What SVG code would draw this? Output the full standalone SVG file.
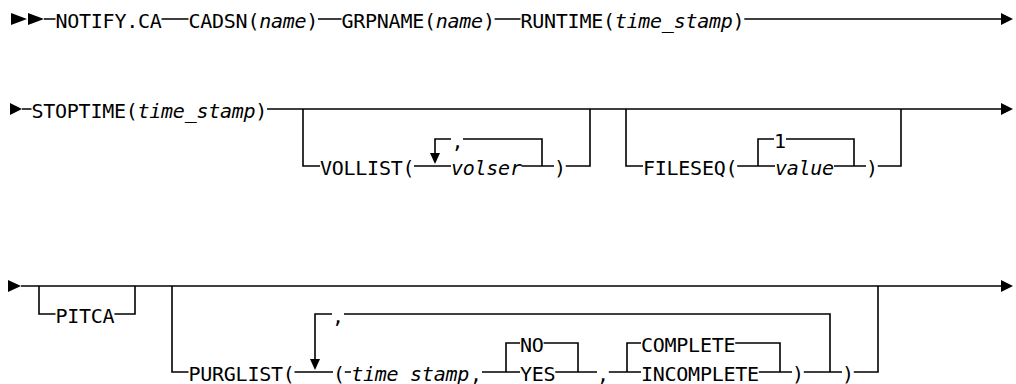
<svg xmlns="http://www.w3.org/2000/svg" width="1016" height="384" viewBox="0 0 1016 384">
<style>
.t{font-family:"DejaVu Sans Mono","Liberation Mono",monospace;font-size:20px;letter-spacing:-0.26px;fill:#000}
.i{font-style:italic}
.ln{fill:none;stroke:#000;stroke-width:1.6}
.ah{fill:#000}
</style>
<rect width="1016" height="384" fill="#fff"/>
<g id="connectors">
<path class="ln" d="M44 19H55.5M161.5 19H188.5M318 19H341.5M494.6 19H520.5M744.3 19H1002"/>
<path class="ln" d="M22 109H31.5M267 109H1002"/>
<path class="ln" d="M303 109V166H320M414 166H451M521.7 166H554M565.8 166H590V109"/>
<path class="ln" d="M435 153V139H451M463 139H542V166"/>
<path class="ln" d="M626 109V166H643M737.2 166H775M834 166H866M877.8 166H901V109"/>
<path class="ln" d="M758 166V139H774M786 139H854V166"/>
<path class="ln" d="M21 286H1002"/>
<path class="ln" d="M39 286V314H55.5M114.4 314H135V286"/>
<path class="ln" d="M172 286V372H188.5M294.5 372H333M344.8 372H351M482 372H520M543.6 343H578V372M555.3 372H597M608.8 372H641M735.2 343H780V372M758.8 372H792M803.8 372H842M853.8 372H878V286"/>
<path class="ln" d="M506 372V343H520M627 372V343H641"/>
<path class="ln" d="M315 359V314H332M344 314H830V372"/>
<polygon class="ah" points="11,13 11,25 27,19"/>
<polygon class="ah" points="28,13 28,25 44,19"/>
<polygon class="ah" points="1001,13 1001,25 1013,19"/>
<polygon class="ah" points="10,103 10,115 22,109"/>
<polygon class="ah" points="1001,103 1001,115 1013,109"/>
<polygon class="ah" points="8,280 8,292 21,286"/>
<polygon class="ah" points="1001,280 1001,292 1013,286"/>
<polygon class="ah" points="430,153 440,153 435,164"/>
<polygon class="ah" points="310,359 320,359 315,370"/>
</g>
<g id="notify"><text class="t" x="55.5" y="28">NOTIFY.CA</text></g>
<g id="cadsn"><text class="t" x="188.5" y="28">CADSN(<tspan class="i">name</tspan>)</text></g>
<g id="grpname"><text class="t" x="341.5" y="28">GRPNAME(<tspan class="i">name</tspan>)</text></g>
<g id="runtime"><text class="t" x="520.5" y="28">RUNTIME(<tspan class="i">time_stamp</tspan>)</text></g>
<g id="stoptime"><text class="t" x="31.5" y="118">STOPTIME(<tspan class="i">time_stamp</tspan>)</text></g>
<g id="vollist">
<text class="t" x="320" y="175">VOLLIST(</text>
<text class="t" x="451.5" y="148">,</text>
<text class="t i" x="451" y="175">volser</text>
<text class="t" x="554" y="175">)</text>
</g>
<g id="fileseq">
<text class="t" x="643" y="175">FILESEQ(</text>
<text class="t" x="774" y="148">1</text>
<text class="t i" x="775" y="175">value</text>
<text class="t" x="866" y="175">)</text>
</g>
<g id="pitca"><text class="t" x="55.5" y="323">PITCA</text></g>
<g id="purglist">
<text class="t" x="188.5" y="381">PURGLIST(</text>
<text class="t" x="332" y="323">,</text>
<text class="t" x="333" y="381">(</text>
<text class="t i" x="351.2" y="381">time_stamp</text>
<text class="t" x="470" y="381">,</text>
<text class="t" x="520" y="352">NO</text>
<text class="t" x="520" y="381">YES</text>
<text class="t" x="597" y="381">,</text>
<text class="t" x="641" y="352">COMPLETE</text>
<text class="t" x="641" y="381">INCOMPLETE</text>
<text class="t" x="792" y="381">)</text>
<text class="t" x="842" y="381">)</text>
</g>
</svg>
